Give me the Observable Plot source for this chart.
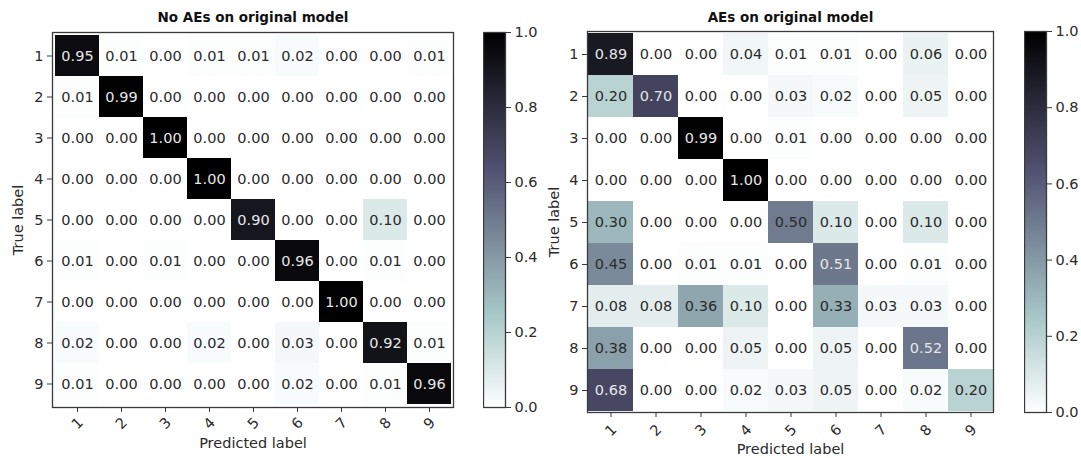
<!DOCTYPE html>
<html>
<head>
<meta charset="utf-8">
<script src="https://cdn.jsdelivr.net/npm/d3@7"></script>
<script src="https://cdn.jsdelivr.net/npm/@observablehq/plot@0.6"></script>
<style>
  html, body { margin: 0; padding: 0; background: #fff; }
  #wrap { position: relative; width: 1081px; height: 458px; overflow: hidden; font-family: "DejaVu Sans", sans-serif; }
  #wrap > div { position: absolute; top: 0; }
</style>
</head>
<body>
<div id="wrap">
  <div id="m1" style="left:0px"></div>
  <div id="c1" style="left:483px"></div>
  <div id="m2" style="left:540px"></div>
  <div id="c2" style="left:1024px"></div>
</div>
<script>
// ---- data ----
const classLabels = ["1","2","3","4","5","6","7","8","9"];
const colorbarTicks = [0, 0.2, 0.4, 0.6, 0.8, 1.0];
const titleLeft = "No AEs on original model";
const titleRight = "AEs on original model";
const xTitle = "Predicted label";
const yTitle = "True label";

const noAEs = [
  [0.95, 0.01, 0.00, 0.01, 0.01, 0.02, 0.00, 0.00, 0.01],
  [0.01, 0.99, 0.00, 0.00, 0.00, 0.00, 0.00, 0.00, 0.00],
  [0.00, 0.00, 1.00, 0.00, 0.00, 0.00, 0.00, 0.00, 0.00],
  [0.00, 0.00, 0.00, 1.00, 0.00, 0.00, 0.00, 0.00, 0.00],
  [0.00, 0.00, 0.00, 0.00, 0.90, 0.00, 0.00, 0.10, 0.00],
  [0.01, 0.00, 0.01, 0.00, 0.00, 0.96, 0.00, 0.01, 0.00],
  [0.00, 0.00, 0.00, 0.00, 0.00, 0.00, 1.00, 0.00, 0.00],
  [0.02, 0.00, 0.00, 0.02, 0.00, 0.03, 0.00, 0.92, 0.01],
  [0.01, 0.00, 0.00, 0.00, 0.00, 0.02, 0.00, 0.01, 0.96]
];
const withAEs = [
  [0.89, 0.00, 0.00, 0.04, 0.01, 0.01, 0.00, 0.06, 0.00],
  [0.20, 0.70, 0.00, 0.00, 0.03, 0.02, 0.00, 0.05, 0.00],
  [0.00, 0.00, 0.99, 0.00, 0.01, 0.00, 0.00, 0.00, 0.00],
  [0.00, 0.00, 0.00, 1.00, 0.00, 0.00, 0.00, 0.00, 0.00],
  [0.30, 0.00, 0.00, 0.00, 0.50, 0.10, 0.00, 0.10, 0.00],
  [0.45, 0.00, 0.01, 0.01, 0.00, 0.51, 0.00, 0.01, 0.00],
  [0.08, 0.08, 0.36, 0.10, 0.00, 0.33, 0.03, 0.03, 0.00],
  [0.38, 0.00, 0.00, 0.05, 0.00, 0.05, 0.00, 0.52, 0.00],
  [0.68, 0.00, 0.00, 0.02, 0.03, 0.05, 0.00, 0.02, 0.20]
];

// matplotlib "bone_r" colormap
const boneR_r = d3.scaleLinear().domain([0, 0.746032, 1]).range([0, 0.652778, 1]).clamp(true);
const boneR_g = d3.scaleLinear().domain([0, 0.365079, 0.746032, 1]).range([0, 0.319444, 0.777778, 1]).clamp(true);
const boneR_b = d3.scaleLinear().domain([0, 0.365079, 1]).range([0, 0.444444, 1]).clamp(true);
function boneR(t) {
  const x = 1 - t;
  return d3.rgb(boneR_r(x) * 255, boneR_g(x) * 255, boneR_b(x) * 255).toString();
}
const colorOpts = {type: "linear", domain: [0, 1], interpolate: boneR};

const FONT = "DejaVu Sans";
const FS = 14.5;
const INK = "#2a2a2a";

function toTable(matrix) {
  const rows = [];
  matrix.forEach((row, i) => row.forEach((v, j) => rows.push({t: classLabels[i], p: classLabels[j], v})));
  return rows;
}

function matrixPlot(matrix, title, g) {
  const data = toTable(matrix);
  const mid = {lineAnchor: "middle", textAnchor: "middle"};
  return Plot.plot({
    width: g.width, height: 458,
    marginLeft: g.ml, marginRight: g.mr, marginTop: g.mt, marginBottom: g.mb,
    style: {fontFamily: FONT, fontSize: FS + "px", color: INK, background: "transparent"},
    x: {type: "band", domain: classLabels, padding: 0, label: null},
    y: {type: "band", domain: classLabels, padding: 0, label: null},
    color: colorOpts,
    marks: [
      Plot.cell(data, {x: "p", y: "t", fill: "v"}),
      Plot.text(data, {x: "p", y: "t", text: d => d.v.toFixed(2), fontSize: FS,
        fill: d => d.v > 0.5 ? "#e6e6e6" : INK}),
      Plot.frame({stroke: "#3a3a3a", strokeWidth: 1.3}),
      Plot.axisY({tickSize: 5, tickPadding: 4, fontSize: FS, label: null, stroke: "#3a3a3a"}),
      Plot.axisX({tickSize: 5, tickFormat: () => "", label: null, stroke: "#3a3a3a"}),
      Plot.text(classLabels, {x: d => d, text: d => d, frameAnchor: "bottom", dy: g.tickDy, rotate: -45, fontSize: FS, fill: INK, ...mid}),
      Plot.text([xTitle], {text: d => d, frameAnchor: "bottom", dy: g.xtDy, fontSize: FS, fill: INK, ...mid}),
      Plot.text([yTitle], {text: d => d, frameAnchor: "left", dx: g.ytDx, rotate: -90, fontSize: FS, fill: INK, ...mid}),
      Plot.text([title], {text: d => d, frameAnchor: "top", dy: g.titleDy, fontSize: 13.5, fontWeight: "bold", fill: "#111", ...mid})
    ]
  });
}

function colorbarPlot(g) {
  return Plot.plot({
    width: g.width, height: 458,
    marginLeft: 0, marginRight: g.mr, marginTop: g.mt, marginBottom: g.mb,
    style: {fontFamily: FONT, fontSize: FS + "px", color: INK, background: "transparent"},
    x: {domain: [0, 1], axis: null},
    y: {domain: [0, 1], axis: null},
    color: colorOpts,
    marks: [
      Plot.raster({x1: 0, x2: 1, y1: 0, y2: 1, fill: (x, y) => y, pixelSize: 1}),
      Plot.frame({stroke: "#3a3a3a", strokeWidth: 1.3}),
      Plot.axisY({anchor: "right", ticks: colorbarTicks, tickFormat: d3.format(".1f"), tickSize: 5, tickPadding: 4, fontSize: FS, label: null, stroke: "#3a3a3a"})
    ]
  });
}

document.getElementById("m1").append(matrixPlot(noAEs, titleLeft,
  {width: 460, ml: 52, mr: 7, mt: 32, mb: 51, tickDy: 16, xtDy: 36, ytDx: -34, titleDy: -14.5}));
document.getElementById("c1").append(colorbarPlot({width: 72, mr: 50, mt: 32, mb: 51}));
document.getElementById("m2").append(matrixPlot(withAEs, titleRight,
  {width: 460, ml: 47, mr: 7, mt: 31, mb: 46, tickDy: 18, xtDy: 37, ytDx: -33, titleDy: -14}));
document.getElementById("c2").append(colorbarPlot({width: 57, mr: 35, mt: 31, mb: 46}));
</script>
</body>
</html>
